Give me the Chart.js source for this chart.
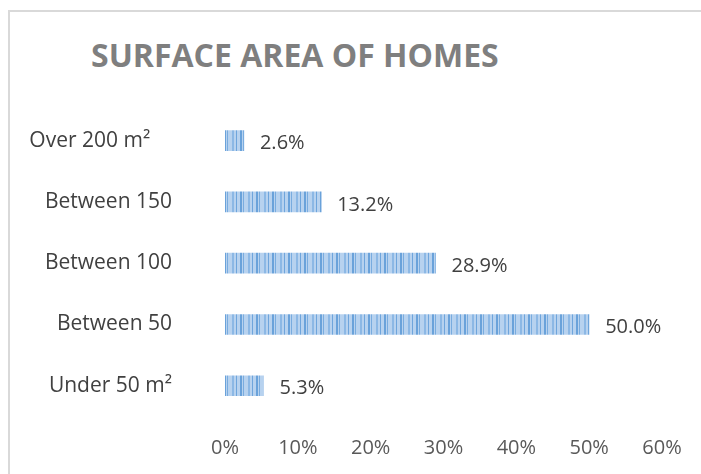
<!DOCTYPE html>
<html>
<head>
<meta charset="utf-8">
<script src="https://cdn.jsdelivr.net/npm/chart.js@4"></script>
<style>
  html, body { margin: 0; padding: 0; background: #fff; }
  #wrap { position: relative; width: 701px; height: 474px; overflow: hidden; }
  #frame {
    position: absolute; left: 8px; top: 10px; right: -4px; bottom: -4px;
    border: 2px solid #d9d9d9;
  }
  #title {
    position: absolute; left: 91px; top: 33px;
    font: bold 32px "Open Sans", sans-serif; color: #7f7f7f;
  }
  canvas { position: absolute; left: 0; top: 0; }
</style>
</head>
<body>
<div id="wrap">
  <div id="frame"></div>
  <div id="title">SURFACE AREA OF HOMES</div>
  <canvas id="chart" width="701" height="474"></canvas>
</div>
<script>
// the source label for the top row carries trailing spaces
const categories = ["Over 200 m²    ", "Between 150", "Between 100", "Between 50", "Under 50 m²"];
const shares = [2.6, 13.2, 28.9, 50.0, 5.3];
const xTicks = [0, 10, 20, 30, 40, 50, 60];

// striped fill like the original picture bars
function stripePattern() {
  const c = document.createElement("canvas");
  c.width = 16;
  c.height = 1;
  const g = c.getContext("2d");
  g.fillStyle = "#b7d2ef";
  g.fillRect(0, 0, 16, 1);
  const dark = [[0, 2, "#6aa2da"], [3, 1, "#79acdf"], [8, 2, "#8cb8e5"], [12, 1, "#6fa5dc"]];
  dark.forEach(([x, w, col]) => {
    g.fillStyle = col;
    g.fillRect(x, 0, w, 1);
  });
  return g.createPattern(c, "repeat");
}

const labelPlugin = {
  id: "barValues",
  afterDatasetsDraw(chart) {
    const ctx = chart.ctx;
    const meta = chart.getDatasetMeta(0);
    ctx.save();
    ctx.font = '20px "Open Sans", sans-serif';
    ctx.fillStyle = "#404040";
    ctx.textAlign = "left";
    ctx.textBaseline = "middle";
    meta.data.forEach((bar, i) => {
      ctx.fillText(shares[i].toFixed(1) + "%", bar.x + 16, bar.y + 3);
    });
    ctx.restore();
  },
};

new Chart(document.getElementById("chart"), {
  type: "bar",
  data: {
    labels: categories,
    datasets: [{ data: shares, backgroundColor: stripePattern(), barThickness: 20, borderWidth: 0 }],
  },
  options: {
    indexAxis: "y",
    responsive: false,
    animation: false,
    layout: { padding: { top: 110, right: 39, bottom: 0, left: 0 } },
    plugins: { legend: { display: false }, tooltip: { enabled: false } },
    scales: {
      x: {
        min: 0,
        max: 60,
        afterBuildTicks(scale) {
          scale.ticks = xTicks.map((v) => ({ value: v }));
        },
        afterFit(scale) { scale.height = 51; },
        grid: { display: false },
        border: { display: false },
        ticks: {
          callback: (v) => v + "%",
          color: "#595959",
          padding: 12,
          font: { family: "Open Sans", size: 20 },
        },
      },
      y: {
        afterFit(scale) { scale.width = 225; },
        grid: { display: false },
        border: { display: false },
        ticks: {
          color: "#404040",
          padding: 45,
          font: { family: "Open Sans", size: 21 },
        },
      },
    },
  },
  plugins: [labelPlugin],
});
</script>
</body>
</html>
